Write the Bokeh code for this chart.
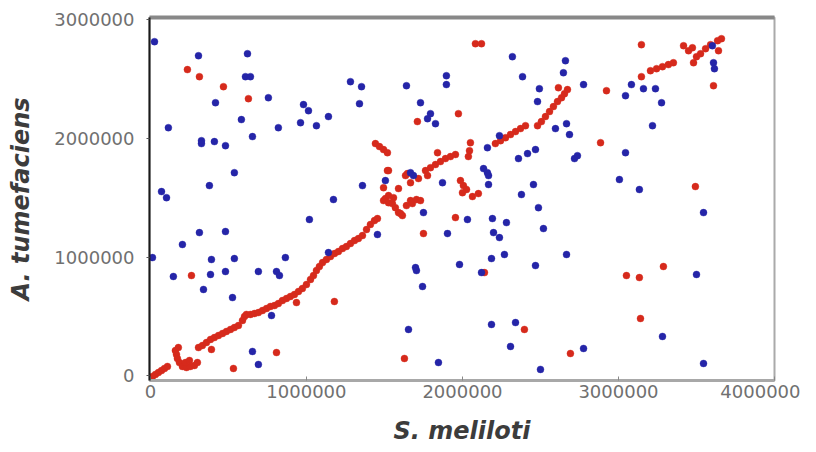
from bokeh.plotting import figure
from bokeh.models import Range1d, LinearAxis, FixedTicker
from bokeh.embed import file_html
from bokeh.resources import INLINE

x_ticks = [0, 1000000, 2000000, 3000000, 4000000]
x_tick_labels = ["0", "1000000", "2000000", "3000000", "4000000"]
y_ticks = [0, 1000000, 2000000, 3000000]
y_tick_labels = ["0", "1000000", "2000000", "3000000"]

blue_x = [26000, 308000, 622000, 609000, 641000, 417000, 756000, 981000, 1013000, 1282000,
          1353000, 1340000, 115000, 583000, 820000, 962000, 1064000, 1141000, 327000, 327000,
          410000, 481000, 654000, 538000, 378000, 71000, 103000, 1173000, 1641000, 1897000,
          1897000, 1731000, 1795000, 1776000, 1827000, 2320000, 2385000, 2493000, 2481000, 2647000,
          2660000, 2596000, 2667000, 2160000, 2237000, 2359000, 2417000, 2468000, 2135000, 2160000,
          2167000, 2167000, 2455000, 2378000, 1872000, 1667000, 1686000, 1506000, 1359000, 2776000,
          3083000, 3045000, 3160000, 3237000, 3276000, 3218000, 2686000, 2718000, 2737000, 3045000,
          3006000, 3134000, 3602000, 3609000, 3615000, 1019000, 314000, 481000, 205000, 13000,
          391000, 538000, 865000, 147000, 385000, 481000, 692000, 808000, 827000, 340000,
          526000, 1141000, 776000, 654000, 692000, 1750000, 2032000, 2192000, 2282000, 2487000,
          2519000, 1455000, 1904000, 2199000, 2237000, 2186000, 2269000, 2667000, 2468000, 1981000,
          1699000, 1705000, 2122000, 1744000, 1654000, 2186000, 2340000, 2308000, 1846000, 2500000,
          3545000, 3500000, 3282000, 2776000, 3545000]
blue_y = [2810000, 2692000, 2709000, 2516000, 2516000, 2297000, 2339000, 2281000, 2230000, 2474000,
          2432000, 2289000, 2087000, 2155000, 2087000, 2129000, 2104000, 2180000, 1978000, 1953000,
          1970000, 1936000, 2012000, 1709000, 1600000, 1550000, 1499000, 1483000, 2440000, 2524000,
          2449000, 2297000, 2205000, 2163000, 2121000, 2684000, 2516000, 2415000, 2306000, 2549000,
          2650000, 2079000, 2121000, 1919000, 2020000, 1827000, 1869000, 1903000, 1743000, 1709000,
          1684000, 1609000, 1609000, 1525000, 1625000, 1709000, 1684000, 1642000, 1600000, 2449000,
          2449000, 2356000, 2415000, 2415000, 2297000, 2104000, 2029000, 1827000, 1852000, 1877000,
          1651000, 1567000, 2776000, 2633000, 2583000, 1315000, 1205000, 1214000, 1105000, 995000,
          979000, 987000, 995000, 836000, 853000, 878000, 878000, 878000, 844000, 727000,
          659000, 1037000, 508000, 206000, 97000, 1373000, 1315000, 1323000, 1289000, 1415000,
          1239000, 1189000, 1197000, 1205000, 1163000, 987000, 1021000, 1021000, 928000, 937000,
          911000, 886000, 869000, 752000, 391000, 433000, 449000, 248000, 113000, 55000,
          1373000, 853000, 332000, 231000, 105000]

red_x = [
    # scattered matches
    237000, 314000, 468000, 628000, 2083000, 2122000, 1974000, 1711000, 3147000, 3147000,
    2923000, 2885000, 3493000, 3609000, 263000, 936000, 1179000, 391000, 808000, 532000,
    1955000, 1750000, 2141000, 2397000, 1628000, 3288000, 3051000, 3134000, 3141000, 2692000,
    1840000, 1526000,
    # main diagonal, lower part
    13000, 32000, 51000, 71000, 90000, 109000,
    160000, 167000, 173000, 186000, 205000, 231000, 256000, 282000, 301000, 179000, 224000, 250000,
    308000, 333000, 359000, 385000, 410000, 436000, 462000, 487000, 513000, 538000,
    564000, 590000, 603000, 615000, 641000, 667000, 692000, 718000, 744000, 769000,
    795000, 820000, 846000, 872000, 897000, 923000, 949000, 974000, 1000000, 1026000,
    1045000, 1064000, 1083000, 1103000, 1128000, 1154000, 1180000, 1205000, 1231000, 1256000,
    1282000, 1308000, 1333000, 1359000, 1385000, 1410000, 1436000, 1455000,
    # rearranged region
    1494000, 1506000, 1526000, 1551000, 1570000, 1590000, 1603000, 1615000, 1641000, 1667000,
    1679000, 1705000, 1731000, 1526000, 1590000, 1635000, 1667000, 1718000, 1558000, 1494000,
    1519000, 1647000,
    1442000, 1468000, 1494000, 1519000,
    1763000, 1795000, 1827000, 1859000, 1891000, 1923000, 1955000, 1776000,
    1987000, 2006000, 2026000, 2000000, 2102000, 2064000, 2051000, 2045000, 2038000,
    2211000, 2244000, 2276000, 2308000, 2340000, 2372000, 2404000,
    2481000, 2506000, 2532000, 2558000, 2583000, 2609000, 2635000, 2654000, 2673000, 2615000,
    3205000, 3244000, 3282000, 3320000, 3352000,
    3417000, 3449000, 3481000, 3500000, 3526000, 3558000, 3590000, 3635000, 3660000, 3641000, 3474000,
]
red_y = [
    2575000, 2516000, 2432000, 2331000, 2793000, 2793000, 2205000, 2138000, 2785000, 2516000,
    2398000, 1961000, 1592000, 2440000, 844000, 617000, 626000, 223000, 197000, 63000,
    1331000, 1197000, 869000, 391000, 147000, 920000, 844000, 827000, 483000, 189000,
    1877000, 1726000,
    -4000, 13000, 29000, 46000, 63000, 80000,
    214000, 181000, 147000, 113000, 80000, 71000, 80000, 88000, 113000, 239000, 113000, 130000,
    239000, 256000, 281000, 307000, 323000, 340000, 357000, 374000, 391000, 407000,
    424000, 466000, 500000, 517000, 517000, 525000, 533000, 550000, 567000, 584000,
    592000, 609000, 634000, 651000, 668000, 685000, 710000, 735000, 769000, 811000,
    844000, 886000, 920000, 953000, 979000, 1004000, 1029000, 1046000, 1071000, 1088000,
    1113000, 1138000, 1155000, 1180000, 1231000, 1273000, 1306000, 1323000,
    1474000, 1491000, 1457000, 1449000, 1415000, 1373000, 1365000, 1348000, 1432000, 1474000,
    1449000, 1483000, 1474000, 1516000, 1575000, 1684000, 1625000, 1659000, 1499000, 1583000,
    1726000, 1701000,
    1953000, 1928000, 1903000, 1877000,
    1726000, 1751000, 1777000, 1802000, 1827000, 1844000, 1861000, 1684000,
    1642000, 1600000, 1567000, 1541000, 1533000, 1508000, 1961000, 1894000, 1844000,
    1953000, 1978000, 2003000, 2029000, 2054000, 2079000, 2104000,
    2104000, 2138000, 2180000, 2222000, 2264000, 2306000, 2339000, 2373000, 2407000, 2423000,
    2566000, 2583000, 2600000, 2617000, 2633000,
    2776000, 2734000, 2633000, 2684000, 2709000, 2751000, 2785000, 2818000, 2835000, 2734000, 2759000,
]

p = figure(width=800, height=452, output_backend="svg", toolbar_location=None,
           x_range=Range1d(-6000, 4000000), y_range=Range1d(-38000, 3013000),
           min_border_left=149, min_border_right=26, min_border_top=17, min_border_bottom=72,
           background_fill_color="white", border_fill_color="white")
p.grid.visible = False
p.outline_line_color = "#aaaaaa"
p.outline_line_width = 2

p.scatter(red_x, red_y, size=7, fill_color="#d62a1c", line_color="#d62a1c", line_alpha=0.35)
p.scatter(blue_x, blue_y, size=7, fill_color="#2525a8", line_color="#2525a8", line_alpha=0.35)

xa = p.xaxis[0]
xa.ticker = FixedTicker(ticks=x_ticks)
xa.major_label_overrides = {t: l for t, l in zip(x_ticks, x_tick_labels)}
xa.minor_tick_line_color = None
xa.major_tick_in = 4
xa.major_tick_out = 0
xa.major_tick_line_color = "#888888"
xa.axis_line_color = "#a8a8a8"
xa.axis_line_width = 3
xa.major_label_text_font = "DejaVu Sans"
xa.major_label_text_font_size = "18px"
xa.major_label_text_color = "#707070"
xa.major_label_standoff = 4
xa.axis_label = "S. meliloti"
xa.axis_label_text_font = "DejaVu Sans"
xa.axis_label_text_font_size = "24px"
xa.axis_label_text_font_style = "bold italic"
xa.axis_label_text_color = "#3c3c3c"
xa.axis_label_standoff = 16

ya = p.yaxis[0]
ya.ticker = FixedTicker(ticks=y_ticks)
ya.major_label_overrides = {t: l for t, l in zip(y_ticks, y_tick_labels)}
ya.minor_tick_line_color = None
ya.major_tick_in = 0
ya.major_tick_out = 3
ya.major_tick_line_color = "#555555"
ya.axis_line_color = "#1a1a1a"
ya.axis_line_width = 2
ya.major_label_text_font = "DejaVu Sans"
ya.major_label_text_font_size = "18px"
ya.major_label_text_color = "#707070"
ya.major_label_standoff = 12
ya.axis_label = "A. tumefaciens"
ya.axis_label_text_font = "DejaVu Sans"
ya.axis_label_text_font_size = "24px"
ya.axis_label_text_font_style = "bold italic"
ya.axis_label_text_color = "#3c3c3c"
ya.axis_label_standoff = 16

top = LinearAxis(ticker=FixedTicker(ticks=[]), axis_line_color="#888888", axis_line_width=4,
                 major_label_text_font_size="0px", major_tick_line_color=None,
                 minor_tick_line_color=None)
p.add_layout(top, "above")

open("out.html", "w").write(file_html(p, INLINE))
